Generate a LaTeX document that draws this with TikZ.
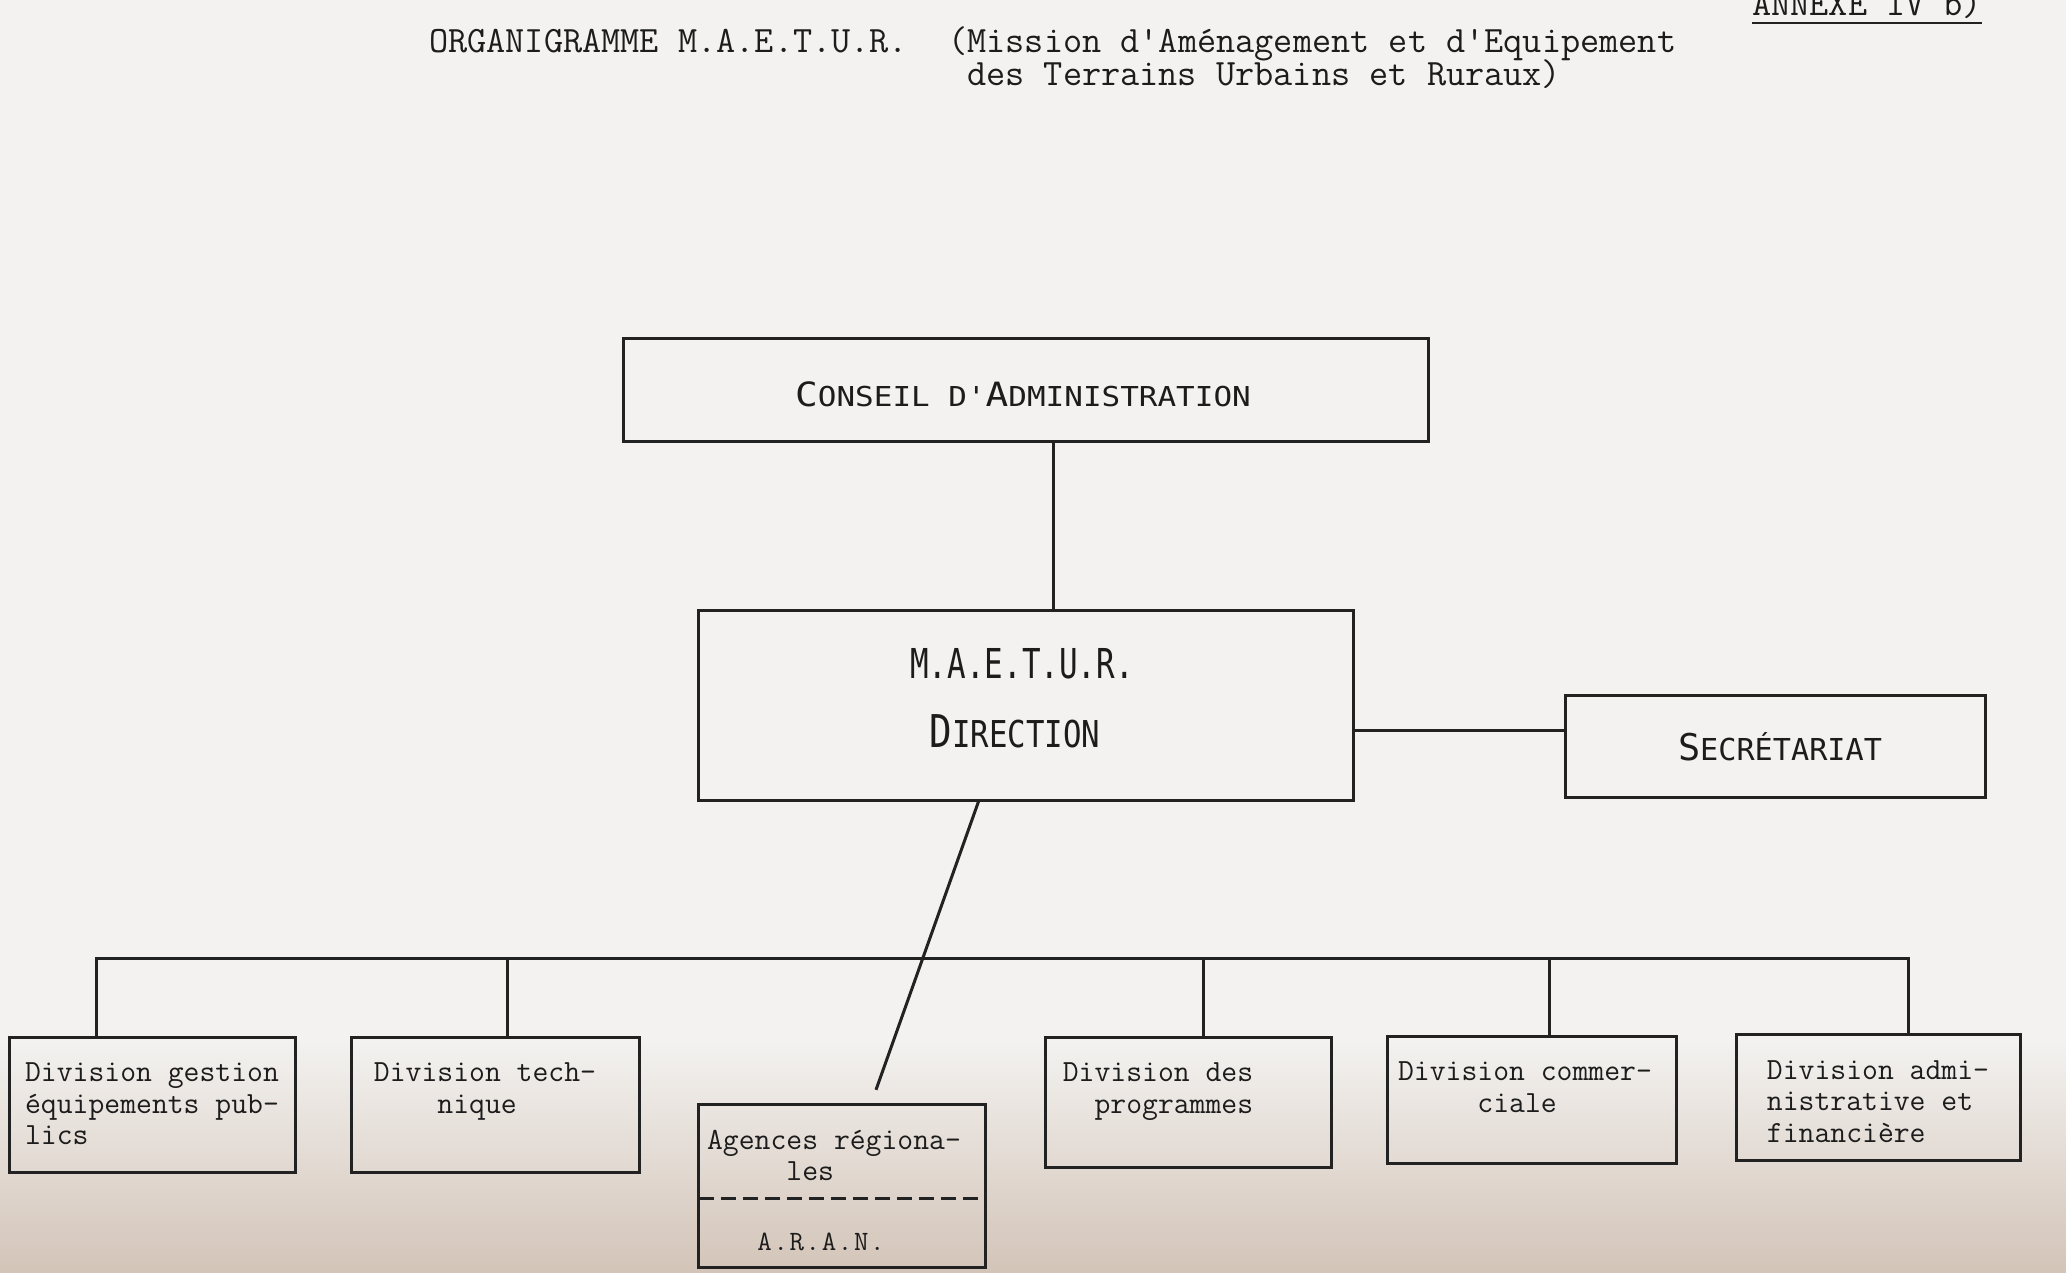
\documentclass[tikz,border=0pt]{standalone}
\usepackage{fontspec}
\usepackage{graphicx}
\usepackage{tikz}
\usetikzlibrary{positioning}

\newfontfamily\lettrage{DejaVu Sans Mono}
\newfontfamily\espace{Latin Modern Mono}[LetterSpace=6]
\newcommand{\grandecap}[1]{\scalebox{1.22}{#1}}

\definecolor{papier}{HTML}{F3F2F0}
\definecolor{papierbas}{HTML}{D3C4B8}
\definecolor{trait}{HTML}{222222}
\definecolor{encre}{HTML}{1C1C1C}

\begin{document}
\begin{tikzpicture}[
        x=1pt, y=-1pt,
        cadre/.style={draw=trait, line width=3pt, rectangle, inner sep=0pt},
        division/.style={cadre, minimum width=286pt, minimum height=130pt},
        divtexte/.style={font=\ttfamily\fontsize{30.8}{31.5}\selectfont, text=encre, inner sep=0pt, align=left},
        titre/.style={font=\ttfamily\fontsize{37.2}{38}\selectfont, text=encre, inner sep=0pt, anchor=base west},
        lettres/.style={text=encre, inner sep=0pt, anchor=base},
        liaison/.style={draw=trait, line width=3pt}
    ]
    \useasboundingbox (0,0) rectangle (2066,1272);
    \fill[papier] (0,0) rectangle (2066,1272);
    \shade[top color=papier, bottom color=papierbas] (0,1040) rectangle (2066,1272);

    \node[titre] (organigramme) at (429,52) {ORGANIGRAMME M.A.E.T.U.R.};
    \node[titre] (mission) at (948,52) {(Mission d\textquotesingle Aménagement et d\textquotesingle Equipement};
    \node[titre] (terrains) at (967,85) {des Terrains Urbains et Ruraux)};
    \node[titre] (annexe) at (1752,15) {ANNEXE IV b)};
    \draw[trait, line width=2.4pt] ([yshift=-8pt]annexe.base west) -- ([yshift=-8pt]annexe.base east);

    \node[cadre, minimum width=805pt, minimum height=103pt] (conseil) at (1025.5,389.5) {};
    \node[lettres, font=\lettrage\fontsize{27.4}{30}\selectfont] (conseiltxt) at (1023,406)
        {\scalebox{1.13}[1]{\grandecap{C}ONSEIL D'\grandecap{A}DMINISTRATION}};

    \node[cadre, minimum width=655pt, minimum height=190pt] (direction) at (1025.5,705) {};
    \node[lettres, font=\lettrage\fontsize{41.2}{44}\selectfont] (maetur) at (1022,678)
        {\scalebox{0.75}[1]{M.A.E.T.U.R.}};
    \node[lettres, font=\lettrage\fontsize{37}{40}\selectfont] (directiontxt) at (1015,747)
        {\scalebox{0.83}[1]{\grandecap{D}IRECTION}};

    \node[cadre, minimum width=420pt, minimum height=102pt] (secretariat) at (1775,746) {};
    \node[lettres, font=\lettrage\fontsize{30.2}{33}\selectfont] (secretariattxt) at (1780,760)
        {\grandecap{S}ECRÉTARIAT};

    \node[division, minimum height=135pt] (gestion) at (152,1104.5) {};
    \node[division, minimum width=288pt, minimum height=135pt] (technique) at (495,1104.5) {};
    \node[division] (programmes) at (1188,1102) {};
    \node[division, minimum width=289pt, minimum height=127pt] (commerciale) at (1532,1099.5) {};
    \node[division, minimum width=284pt, minimum height=126pt] (administrative) at (1878,1097.5) {};

    \node[minimum width=286pt, minimum height=93pt, inner sep=0pt] (agences) at (842,1151.5) {};
    \node[minimum width=286pt, minimum height=69pt, inner sep=0pt, below=0pt of agences] (aran) {};
    \node[font=\espace\fontsize{28}{30}\selectfont, text=encre, inner sep=0pt, anchor=base]
        (arantxt) at ([xshift=-21pt]aran.center |- 0,1250) {A.R.A.N.};
    \draw[cadre] (agences.north west) rectangle (aran.south east);
    \draw[trait, line width=2.8pt, dash pattern=on 15pt off 7pt] (agences.south west) -- (agences.south east);

    \node[divtexte, below=27pt of gestion.north] (gestiontxt) {Division gestion\\équipements pub-\\lics};
    \node[divtexte, below=27pt of technique.north, xshift=-10pt] (techniquetxt) {Division tech-\\\phantom{xxxx}nique};
    \node[divtexte, below=27pt of programmes.north, xshift=-30pt] (programmestxt) {Division des\\\phantom{xx}programmes};
    \node[divtexte, below=27pt of commerciale.north, xshift=-7pt] (commercialetxt) {Division commer-\\\phantom{xxxxx}ciale};
    \node[divtexte, below=27pt of administrative.north] (administrativetxt) {Division admi-\\nistrative et\\financière};
    \node[divtexte, below=25pt of agences.north, xshift=-8pt] (agencestxt) {Agences régiona-\\\phantom{xxxxx}les};

    \coordinate (bus) at (0,958);
    \draw[liaison] ([xshift=28pt]conseil.south) -- ([xshift=28pt]conseil.south |- direction.north);
    \draw[liaison] ([yshift=16pt]secretariat.west) -- ([yshift=16pt]secretariat.west -| direction.east);
    \draw[liaison] ([xshift=-47pt]direction.south) -- ([xshift=34pt,yshift=15pt]agences.north);
    \draw[liaison] ([xshift=-56pt]gestion.north) |- ([xshift=30pt]administrative.north |- bus) -- ([xshift=30pt]administrative.north);
    \draw[liaison] ([xshift=12pt]technique.north) -- ([xshift=12pt]technique.north |- bus);
    \draw[liaison] ([xshift=15pt]programmes.north) -- ([xshift=15pt]programmes.north |- bus);
    \draw[liaison] ([xshift=17pt]commerciale.north) -- ([xshift=17pt]commerciale.north |- bus);
\end{tikzpicture}
\end{document}
